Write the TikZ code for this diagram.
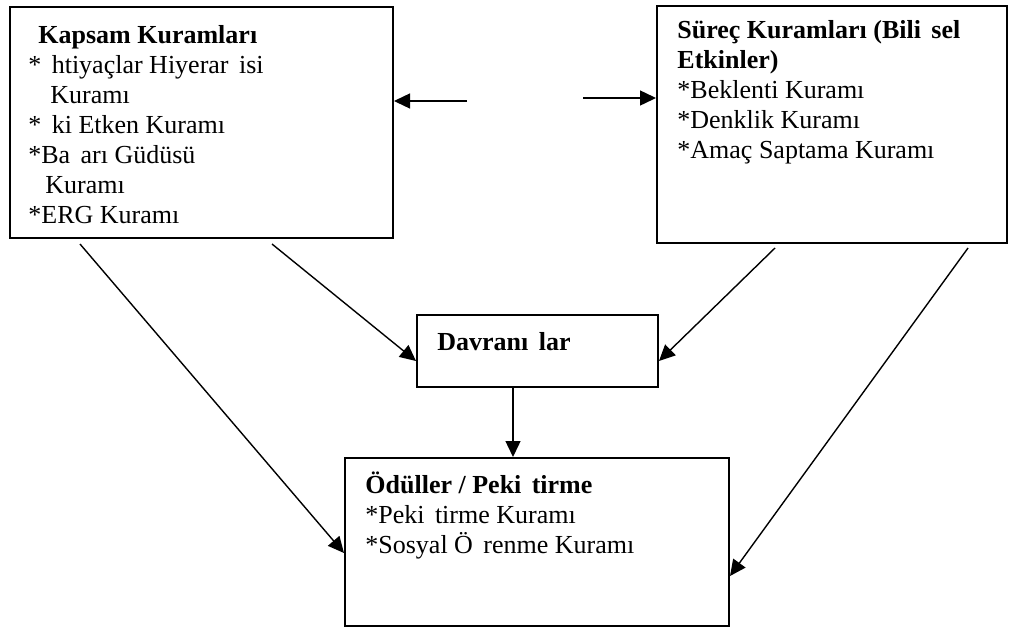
\documentclass[tikz,border=0pt]{standalone}
\usepackage{fontspec}
\setmainfont{Liberation Serif}
\usetikzlibrary{arrows.meta}
\newcommand{\miss}{\hspace{0.4em}}
\tikzset{
  frame/.style    = {draw, line width=1pt, inner sep=0pt, anchor=north west},
  boxtext/.style  = {inner sep=0pt, anchor=base west, align=left,
                     font=\fontsize{13}{15}\selectfont},
  link/.style     = {draw, line width=0.7pt, -{Triangle[length=8pt, width=7.5pt]}}
}

\begin{document}
\begin{tikzpicture}[x=0.5pt, y=-0.5pt]
  \useasboundingbox (0,0) rectangle (1010,627);
  % boxes
  \node (kapsam) [frame, minimum width=191.5pt, minimum height=115.5pt] at (9,6) {};
  \node (surec)  [frame, minimum width=175pt, minimum height=118.5pt] at (656,5) {};
  \node (davr)   [frame, minimum width=120.5pt, minimum height=36pt] at (416,314) {};
  \node (odul)   [frame, minimum width=192pt, minimum height=84pt] at (344,457) {};
  % texts (base = last line)
  \node (kapsamtext) [boxtext] at ([xshift=9.5pt, yshift=-108.5pt]kapsam.north west)
    {\hspace{5pt}\textbf{Kapsam Kuramları}\\
     *\miss htiyaçlar Hiyerar\miss isi\\
     \hspace{11pt}Kuramı\\
     *\miss ki Etken Kuramı\\
     *Ba\miss arı Güdüsü\\
     \hspace{8.5pt}Kuramı\\
     *ERG Kuramı};
  \node (surectext) [boxtext] at ([xshift=10.5pt, yshift=-76.5pt]surec.north west)
    {\textbf{Süreç Kuramları (Bili\miss sel}\\
     \textbf{Etkinler)}\\
     *Beklenti Kuramı\\
     *Denklik Kuramı\\
     *Amaç Saptama Kuramı};
  \node (davrtext) [boxtext] at ([xshift=10.5pt, yshift=-18pt]davr.north west)
    {\textbf{Davranı\miss lar}};
  \node (odultext) [boxtext] at ([xshift=10.5pt, yshift=-48pt]odul.north west)
    {\textbf{Ödüller / Peki\miss tirme}\\
     *Peki\miss tirme Kuramı\\
     *Sosyal Ö\miss renme Kuramı};
  % connectors
  \coordinate (lt) at ([xshift=36.5pt, yshift=-47.5pt]kapsam.north east);
  \coordinate (rt) at ([xshift=-36.5pt, yshift=-46.5pt]surec.north west);
  \draw [link] (lt) -- (lt -| kapsam.east);
  \draw [link] (rt) -- (rt -| surec.west);
  \draw [link] ([xshift=35.5pt, yshift=-2.5pt]kapsam.south west) -- ([yshift=-5.5pt]odul.west);
  \draw [link] ([xshift=131.5pt, yshift=-2.5pt]kapsam.south west) -- ([yshift=-5pt]davr.west);
  \draw [link] ([xshift=59.5pt, yshift=-2pt]surec.south west) -- ([yshift=-5pt]davr.east);
  \draw [link] ([xshift=156pt, yshift=-2pt]surec.south west) -- ([yshift=-17pt]odul.east);
  \coordinate (v) at ([xshift=-12.25pt]davr.south);
  \draw [link] (v) -- (v |- odul.north);
\end{tikzpicture}
\end{document}
